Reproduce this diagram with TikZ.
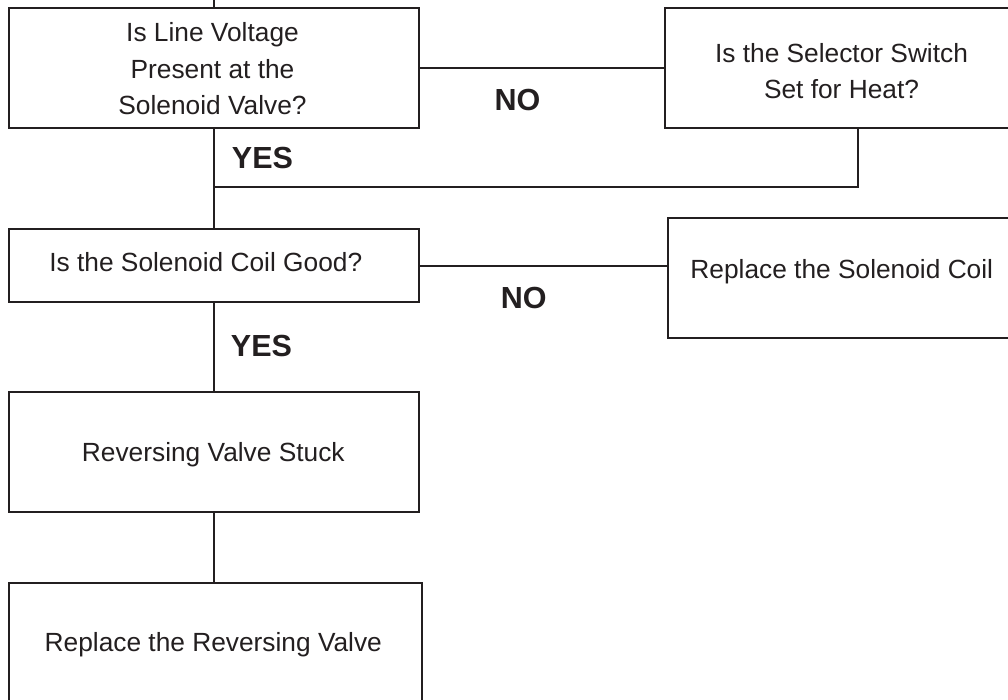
\documentclass[tikz,border=0pt]{standalone}
\usepackage{fontspec}
\setmainfont{Liberation Sans}
\definecolor{ink}{HTML}{231F20}
\tikzset{
  box/.style={draw=ink, line width=2.2pt, rectangle, inner sep=0pt, outer sep=0pt},
  conn/.style={draw=ink, line width=2.2pt},
  txt/.style={text=ink, font=\fontsize{26.3}{36.7}\selectfont, inner sep=0pt, anchor=base, align=center},
  lbl/.style={text=ink, font=\fontsize{30.5}{34}\selectfont\bfseries, inner sep=0pt, anchor=base}
}
\begin{document}
\begin{tikzpicture}[x=1pt,y=-1pt]
\useasboundingbox (0,0) rectangle (1008,700);
\clip (0,0) rectangle (1008,700);
\fill[white] (0,0) rectangle (1008,700);
% boxes
\node[box, minimum width=409.7pt, minimum height=120pt] (b1) at (213.85,68.3) {};
\node[box, minimum width=353pt, minimum height=120pt] (b2) at (841.5,68.3) {};
\node[box, minimum width=409.7pt, minimum height=73pt] (b3) at (213.85,265.8) {};
\node[box, minimum width=348.3pt, minimum height=120.6pt] (b4) at (841.85,278) {};
\node[box, minimum width=409.7pt, minimum height=120.3pt] (b5) at (213.85,451.85) {};
\node[box, minimum width=412.7pt, minimum height=117.7pt] (b6) at (215.35,642.15) {};
% texts (base anchor = baseline of last line)
\node[txt] (t1) at (212.5,115) {Is Line Voltage\\Present at the\\Solenoid Valve?};
\node[txt] (t2) at (841.5,99) {Is the Selector Switch\\Set for Heat?};
\node[txt] (t3) at (205.8,271.7) {Is the Solenoid Coil Good?};
\node[txt] (t4) at (841.8,278.3) {Replace the Solenoid Coil};
\node[txt] (t5) at (213.3,461.7) {Reversing Valve Stuck};
\node[txt] (t6) at (213.3,651.7) {Replace the Reversing Valve};
% labels
\node[lbl] (no1) at (517.5,110.7) {NO};
\node[lbl] (yes1) at (262.5,168.3) {YES};
\node[lbl] (no2) at (523.7,308.3) {NO};
\node[lbl] (yes2) at (261.5,356.7) {YES};
% connectors
\coordinate (top) at (213.85,0);
\coordinate (j1) at (213.85,186.7);
\coordinate (j2) at (857.7,186.7);
\draw[conn] (top) -- (b1.north);
\draw[conn] (b1.east) -- (b2.west);
\draw[conn] (b1.south) -- (b3.north);
\draw[conn] (b2.south -| j2) -- (j2) -- (j1);
\draw[conn] (b3.east) -- (b3.east -| b4.west);
\draw[conn] (b3.south) -- (b5.north);
\draw[conn] (b5.south) -- (b5.south |- b6.north);
\end{tikzpicture}
\end{document}
